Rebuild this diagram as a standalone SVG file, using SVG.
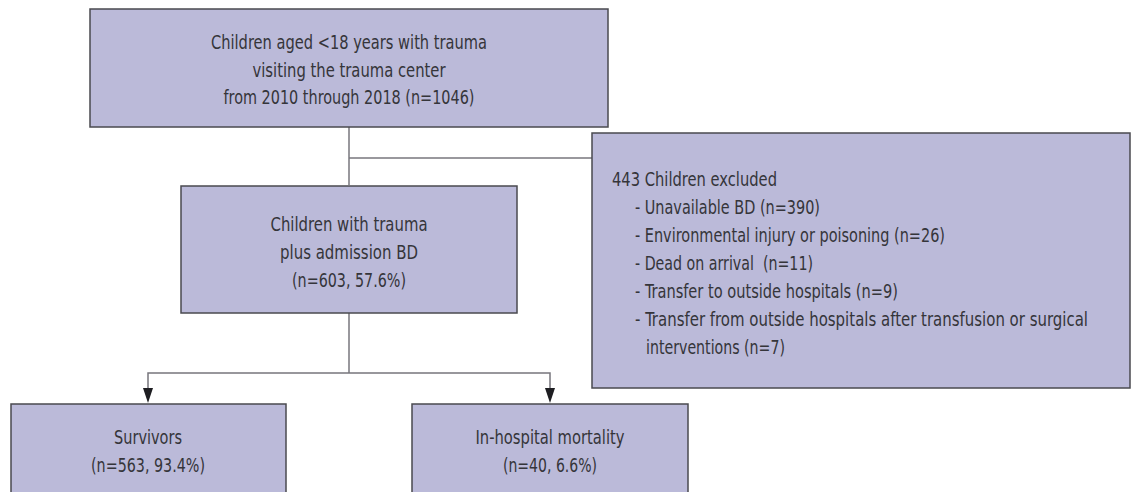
<svg xmlns="http://www.w3.org/2000/svg" width="1133" height="492" viewBox="0 0 1133 492">
<style>
.box{fill:#bbbad9;stroke:#4a4a4f;stroke-width:1.5}
.t{font-family:"DejaVu Sans Condensed","Liberation Sans",sans-serif;font-size:19px;fill:#35353a}
.c{text-anchor:middle}
.ln{fill:none;stroke:#77767c;stroke-width:1.5}
.ah{fill:#1e1e22}
</style>
<rect width="1133" height="492" fill="#ffffff"/>
<g id="connectors">
<line class="ln" x1="349" y1="127" x2="349" y2="185"/>
<line class="ln" x1="349" y1="158" x2="592" y2="158"/>
<line class="ln" x1="349" y1="313" x2="349" y2="373"/>
<polyline class="ln" points="148,389 148,373 550,373 550,389"/>
<path class="ah" d="M143,388 L153,388 L148,403 Z"/>
<path class="ah" d="M545,388 L555,388 L550,403 Z"/>
</g>
<g id="top">
<rect class="box" x="90" y="9" width="518" height="118"/>
<text class="t c" x="349" y="49" textLength="276" lengthAdjust="spacingAndGlyphs">Children aged &lt;18 years with trauma</text>
<text class="t c" x="349" y="77" textLength="193" lengthAdjust="spacingAndGlyphs">visiting the trauma center</text>
<text class="t c" x="349" y="104" textLength="251" lengthAdjust="spacingAndGlyphs">from 2010 through 2018 (n=1046)</text>
</g>
<g id="excluded">
<rect class="box" x="592" y="133" width="538" height="255"/>
<text class="t" x="612" y="186" textLength="165" lengthAdjust="spacingAndGlyphs">443 Children excluded</text>
<text class="t" x="635" y="214" textLength="185" lengthAdjust="spacingAndGlyphs">- Unavailable BD (n=390)</text>
<text class="t" x="635" y="242" textLength="310" lengthAdjust="spacingAndGlyphs">- Environmental injury or poisoning (n=26)</text>
<text class="t" x="635" y="270" textLength="178" lengthAdjust="spacingAndGlyphs" xml:space="preserve">- Dead on arrival  (n=11)</text>
<text class="t" x="635" y="298" textLength="263" lengthAdjust="spacingAndGlyphs">- Transfer to outside hospitals (n=9)</text>
<text class="t" x="635" y="326" textLength="453" lengthAdjust="spacingAndGlyphs">- Transfer from outside hospitals after transfusion or surgical</text>
<text class="t" x="646" y="354" textLength="139" lengthAdjust="spacingAndGlyphs">interventions (n=7)</text>
</g>
<g id="admission">
<rect class="box" x="181" y="186" width="336" height="127"/>
<text class="t c" x="349" y="231" textLength="157" lengthAdjust="spacingAndGlyphs">Children with trauma</text>
<text class="t c" x="349" y="259" textLength="138" lengthAdjust="spacingAndGlyphs">plus admission BD</text>
<text class="t c" x="349" y="287" textLength="114" lengthAdjust="spacingAndGlyphs">(n=603, 57.6%)</text>
</g>
<g id="survivors">
<rect class="box" x="11" y="404" width="275" height="100"/>
<text class="t c" x="148" y="444" textLength="68" lengthAdjust="spacingAndGlyphs">Survivors</text>
<text class="t c" x="148" y="472" textLength="114" lengthAdjust="spacingAndGlyphs">(n=563, 93.4%)</text>
</g>
<g id="mortality">
<rect class="box" x="412" y="404" width="276" height="100"/>
<text class="t c" x="550" y="444" textLength="149" lengthAdjust="spacingAndGlyphs">In-hospital mortality</text>
<text class="t c" x="550" y="472" textLength="94" lengthAdjust="spacingAndGlyphs">(n=40, 6.6%)</text>
</g>
</svg>
